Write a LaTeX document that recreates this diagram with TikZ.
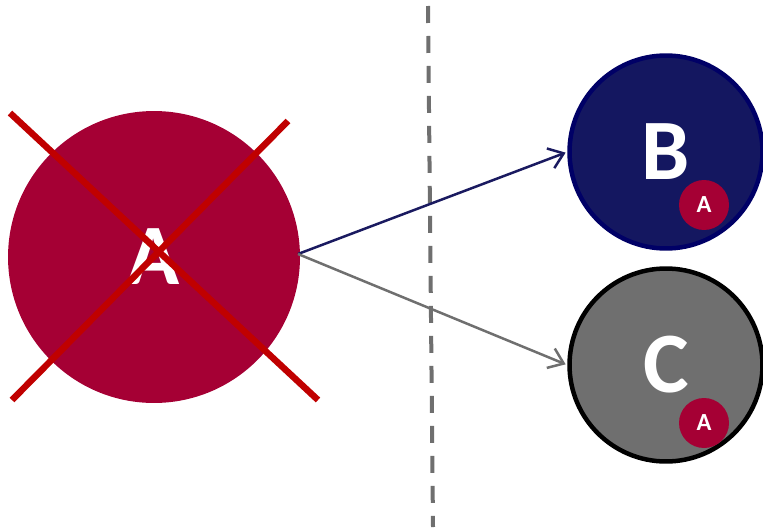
\documentclass[tikz,border=0pt]{standalone}
\usepackage{fontspec}
\setmainfont{Carlito}
\usepackage{xcolor}
\usetikzlibrary{arrows.meta,positioning}
\definecolor{crimson}{HTML}{A50034}
\definecolor{crossred}{HTML}{C00000}
\definecolor{navyfill}{HTML}{141760}
\definecolor{navyline}{HTML}{000066}
\definecolor{navyarrow}{HTML}{1A1A60}
\definecolor{greyfill}{HTML}{6F6F6F}

\begin{document}
\begin{tikzpicture}[x=0.02cm, y=-0.02cm,
    big/.style={circle, fill=crimson, minimum size=5.84cm, inner sep=0pt, text=white, font=\bfseries\fontsize{49}{49}\selectfont},
    state/.style={circle, line width=0.9mm, minimum size=3.86cm, inner sep=0pt, text=white, font=\bfseries\fontsize{49}{49}\selectfont},
    tag/.style={circle, fill=crimson, minimum size=1cm, inner sep=0pt, text=white, font=\bfseries\fontsize{14}{14}\selectfont}]
    \useasboundingbox (0,0) rectangle (763,527);
    \node[big] (a) at (154,257) {A};
    \node[state, draw=navyline, fill=navyfill] (b) at (666,152) {B};
    \node[state, draw=black, fill=greyfill] (c) at (666,365) {C};
    \node[tag] (ba) at (704,205) {A};
    \node[tag] (ca) at (704,423) {A};
    % the cross over A
    \draw [crossred, line width=1.3mm] (10,113) -- (318,400);
    \draw [crossred, line width=1.3mm] (288,121) -- (12,400);
    % divider
    \draw [greyfill, line width=0.8mm, dash pattern=on 0.34cm off 0.26cm] (428,6) -- (433,527);
    \coordinate (s) at (298,254);
    \draw [-{Straight Barb[length=2.8mm, width=4.2mm]}, navyarrow, line width=0.5mm, shorten >=1pt] (s) -- (b.west);
    \draw [-{Straight Barb[length=2.8mm, width=4.2mm]}, greyfill, line width=0.5mm, shorten >=1pt] (s) -- (c.west);
\end{tikzpicture}
\end{document}
